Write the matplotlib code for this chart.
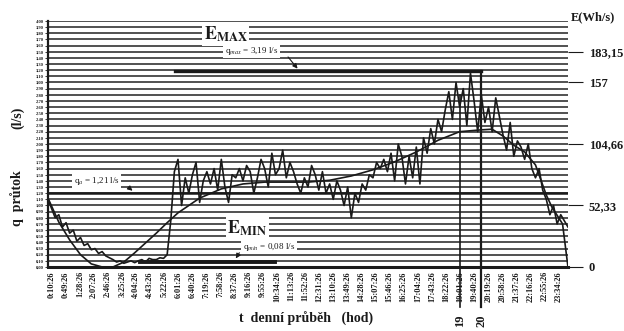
import numpy as np
import matplotlib
matplotlib.use("Agg")
import matplotlib.pyplot as plt

# ---- data ----
# measured flow q (l/s), 10-minute steps from 0:00 to 24:00
q_measured = [
    1.10, 0.95, 0.80, 0.85, 0.65, 0.72,
    0.55, 0.60, 0.42, 0.48, 0.35, 0.38,
    0.28, 0.30, 0.22, 0.25, 0.18, 0.15,
    0.12, 0.08, 0.10, 0.06, 0.08, 0.10,
    0.07, 0.10, 0.12, 0.08, 0.14, 0.12,
    0.12, 0.15, 0.14, 0.20, 0.75, 1.55,
    1.75, 1.00, 1.45, 1.20, 1.50, 1.70,
    1.05, 1.40, 1.55, 1.35, 1.60, 1.25,
    1.75, 1.30, 1.05, 1.50, 1.45, 1.60,
    1.40, 1.65, 1.55, 1.20, 1.45, 1.75,
    1.60, 1.30, 1.85, 1.50, 1.60, 1.90,
    1.45, 1.70, 1.55, 1.35, 1.20, 1.45,
    1.30, 1.65, 1.50, 1.25, 1.55, 1.20,
    1.35, 1.10, 1.40, 1.25, 1.00, 1.30,
    0.80, 1.20, 1.05, 1.35, 1.25, 1.50,
    1.45, 1.70, 1.60, 1.75, 1.55, 1.85,
    1.40, 2.00, 1.80, 1.35, 1.80, 1.45,
    1.95, 1.35, 2.10, 1.85, 2.25, 2.00,
    2.40, 2.20, 2.55, 2.85, 2.40, 3.00,
    2.60, 2.90, 2.30, 3.15, 2.70, 2.20,
    2.80, 2.35, 2.60, 2.20, 2.75, 2.45,
    2.15, 1.90, 2.35, 1.80, 2.05, 1.95,
    1.75, 2.00, 1.60, 1.45, 1.60, 1.25,
    1.10, 0.85, 1.00, 0.70, 0.85, 0.75,
    0.65,
]
t_measured = [i / 6 for i in range(len(q_measured))]

# smoothed daily course
t_smooth = [0, 0.5, 1, 1.5, 2, 2.5, 3, 3.5, 4, 4.5, 5, 5.5, 6, 7, 8, 9, 10, 11,
            12, 13, 14, 15, 16, 17, 18, 19, 20, 20.5, 21, 21.5, 22, 22.5, 23,
            23.25, 23.75, 24]
q_smooth = [1.12, 0.73, 0.44, 0.20, 0.05, 0.0, 0.0, 0.08, 0.23, 0.39, 0.55, 0.72,
            0.88, 1.12, 1.27, 1.35, 1.38, 1.38, 1.38, 1.41, 1.48, 1.58, 1.71, 1.87,
            2.06, 2.20, 2.23, 2.24, 2.13, 1.98, 1.87, 1.66, 1.17, 0.98, 0.70, 0.0]

q_max = 3.19
q_avg = 1.21
q_min = 0.08
emax_span = [5.86, 20.0]
emin_span = [4.25, 10.48]
hour_marks = [19, 20]
hour_mark_tops = [2.8, 3.19]

e_ticks = [0, 52.33, 104.66, 157, 183.15]
e_tick_labels = ["0", "52,33", "104,66", "157", "183,15"]
e_per_q = 52.33

x_tick_labels = [
    "0:10:26", "0:49:26", "1:28:26", "2:07:26", "2:46:26", "3:25:26", "4:04:26",
    "4:43:26", "5:22:26", "6:01:26", "6:40:26", "7:19:26", "7:58:26", "8:37:26",
    "9:16:26", "9:55:26", "10:34:26", "11:13:26", "11:52:26", "12:31:26",
    "13:10:26", "13:49:26", "14:28:26", "15:07:26", "15:46:26", "16:25:26",
    "17:04:26", "17:43:26", "18:22:26", "19:01:26", "19:40:26", "20:19:26",
    "20:58:26", "21:37:26", "22:16:26", "22:55:26", "23:34:26",
]

# ---- figure ----
plt.rcParams['font.family'] = ['Liberation Serif', 'DejaVu Serif']
plt.rcParams['mathtext.fontset'] = 'stix'
INK = '#1a1a1a'

fig = plt.figure(figsize=(6.24, 3.31), dpi=100)
ax = fig.add_axes([0.0769, 0.1934, 0.8333, 0.7432])
ax.set_xlim(0, 24)
ax.set_ylim(0, 4.0)

# y grid every 0.1 l/s
yt = np.round(np.arange(0, 4.0001, 0.1), 2)
ax.set_yticks(yt)
ax.set_yticklabels([f"{v:.2f}".replace('.', ',') for v in yt], fontsize=3.3,
                   fontweight='bold', color=INK)
ax.tick_params(axis='y', length=2, width=0.6, pad=1, colors=INK)
ax.grid(axis='y', color='#333333', lw=1.2)
ax.set_axisbelow(True)

def hours(s):
    h, m, sec = s.split(':')
    return int(h) + int(m) / 60 + int(sec) / 3600

ax.set_xticks([hours(s) for s in x_tick_labels])
ax.set_xticklabels(x_tick_labels, rotation=90, fontsize=6, fontweight='bold',
                   color=INK)
ax.tick_params(axis='x', length=0, pad=3)

for s in ['top', 'right']:
    ax.spines[s].set_visible(False)
ax.spines['left'].set_linewidth(1.6)
ax.spines['bottom'].set_linewidth(2.2)
ax.spines['left'].set_color(INK)
ax.spines['bottom'].set_color(INK)

# series
ax.plot(t_measured, q_measured, color=INK, lw=1.2, zorder=3)
ax.plot(t_smooth, q_smooth, color=INK, lw=1.2, zorder=3)

# reference lines
ax.plot(emax_span, [q_max, q_max], color=INK, lw=2.4, zorder=4)
ax.axhline(q_avg, color=INK, lw=1.8, zorder=2)
ax.plot(emin_span, [q_min, q_min], color=INK, lw=2.8, zorder=4)
for h, top in zip(hour_marks, hour_mark_tops):
    ax.plot([h, h], [top, -0.65], color=INK, lw=1.2 if h == 19 else 1.6,
            clip_on=False, zorder=4)
    ax.text(h, -0.88, str(h), rotation=90, ha='center', va='center',
            fontsize=9, fontweight='bold', color=INK)

box = dict(facecolor='white', edgecolor='none', pad=1.2)
ax.text(8.2, 3.78, r'$\mathbf{E}_{\mathbf{MAX}}$', fontsize=13, ha='center',
        va='center', color=INK, bbox=box, zorder=5)
ax.text(9.4, 3.52, r'q$_{max}$ = 3,19 l/s', fontsize=6.5, ha='center',
        va='center', color=INK, bbox=box, zorder=5)
ax.annotate('', xy=(11.6, q_max), xytext=(11.0, 3.45),
            arrowprops=dict(arrowstyle='-|>', color=INK, lw=0.8,
                            mutation_scale=7), zorder=6)

ax.text(2.25, 1.40, r'q$_{a}$ = 1,21 l/s', fontsize=6.5, ha='center',
        va='center', color=INK, bbox=box, zorder=5)
ax.annotate('', xy=(4.0, q_avg), xytext=(3.6, 1.33),
            arrowprops=dict(arrowstyle='-|>', color=INK, lw=0.8,
                            mutation_scale=7), zorder=6)

ax.text(9.2, 0.63, r'$\mathbf{E}_{\mathbf{MIN}}$', fontsize=13, ha='center',
        va='center', color=INK, bbox=box, zorder=5)
ax.text(10.2, 0.33, r'q$_{min}$ = 0,08 l/s', fontsize=6.5, ha='center',
        va='center', color=INK, bbox=box, zorder=5)
ax.annotate('', xy=(8.6, q_min + 0.02), xytext=(8.9, 0.27),
            arrowprops=dict(arrowstyle='-|>', color=INK, lw=0.8,
                            mutation_scale=7), zorder=6)

# right energy axis
ax2 = ax.twinx()
ax2.set_ylim(0, 4.0 * e_per_q)
ax2.set_yticks(e_ticks)
ax2.set_yticklabels(e_tick_labels, fontsize=9, fontweight='bold', color=INK)
ax2.tick_params(axis='y', length=11, width=0.8, pad=4, colors=INK)
for s in ['top', 'right', 'left', 'bottom']:
    ax2.spines[s].set_visible(False)
fig.text(0.915, 0.965, 'E(Wh/s)', fontsize=9, fontweight='bold', color=INK,
         ha='left', va='top')

# axis titles
fig.text(0.028, 0.40, 'q  průtok', rotation=90, fontsize=10, fontweight='bold',
         color=INK, ha='center', va='center')
fig.text(0.028, 0.645, '(l/s)', rotation=90, fontsize=10, fontweight='bold',
         color=INK, ha='center', va='center')
fig.text(0.49, 0.035, 't  denní průběh   (hod)', fontsize=10, fontweight='bold',
         color=INK, ha='center', va='center')

fig.savefig('out.png', dpi=100)
